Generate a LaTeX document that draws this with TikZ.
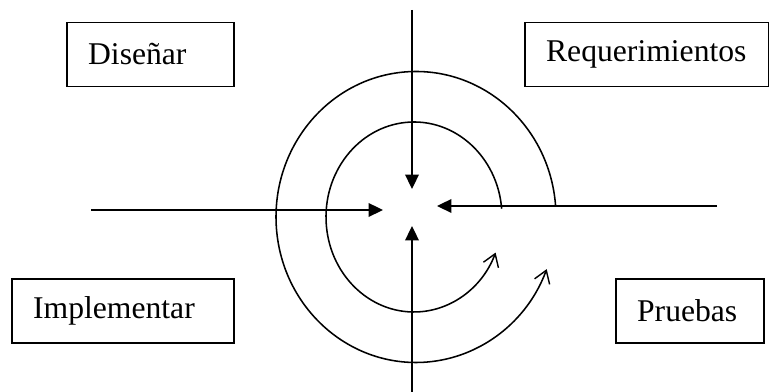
\documentclass[tikz,border=0pt]{standalone}
\usepackage{fontspec}
\setmainfont{Liberation Serif}
\usetikzlibrary{arrows.meta, calc}

\begin{document}
\begin{tikzpicture}[
    x=0.025cm, y=0.025cm,
    line width=1.1pt,
    phase/.style={draw, line width=1.3pt, rectangle, anchor=west, align=left,
        inner xsep=0.53cm, minimum height=1.6cm, font=\fontsize{22.5}{26}\selectfont},
    inward/.style={-{Triangle[length=0.36cm, width=0.34cm]}},
    turn/.style={-{Straight Barb[length=0.3cm, width=0.4cm, line width=1pt]}}
]
\useasboundingbox (0,0) rectangle (769,392);

% Phases
\node[phase, text width=3.12cm] (disenar) at (66,337.5) {Diseñar};
\node[phase, text width=5.05cm] (req) at (524,337.5) {Requerimientos};
\node[phase, text width=4.5cm] (impl) at (11,81) {Implementar};
\node[phase, text width=2.65cm] (pruebas) at (615,81) {Pruebas};

% Center and line ends
\coordinate (c) at (414,175);
\coordinate (tipN) at (412,203);
\coordinate (tipS) at (412,166);
\coordinate (tipW) at (383,182);
\coordinate (tipE) at (437,186);
\coordinate (endN) at (412,382);
\coordinate (endS) at (412,0);
\coordinate (endW) at (91,182);
\coordinate (endE) at (717,186);

% Spiral
\draw[turn] ($(c)+(5:88 and 95)$) arc[start angle=5, end angle=338, x radius=88, y radius=95];
\draw[turn] ($(c)+(2,0)+(4.5:140 and 145.5)$) arc[start angle=4.5, end angle=339, x radius=140, y radius=145.5];

% Arrows to the center
\draw[inward] (endN) -- (tipN);
\draw[inward] (endS) -- (tipS);
\draw[inward] (endW) -- (tipW);
\draw[inward] (endE) -- (tipE);

\end{tikzpicture}
\end{document}
